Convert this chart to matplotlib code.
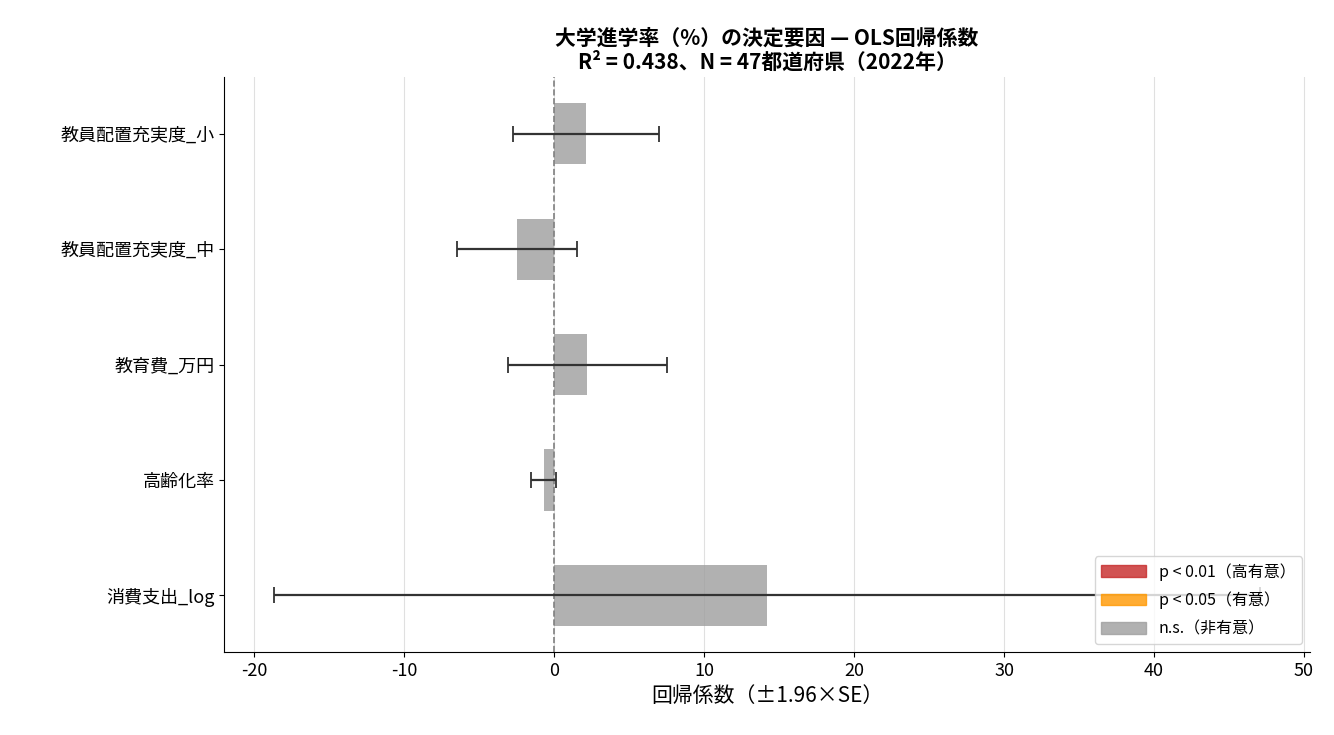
import numpy as np
import matplotlib.pyplot as plt
from matplotlib.patches import Patch

plt.rcParams['font.family'] = ['Noto Sans CJK JP', 'DejaVu Sans']
plt.rcParams['axes.unicode_minus'] = False

# 上から順に表示（barh は下から描くので逆順で扱う）
variables = ['教員配置充実度_小', '教員配置充実度_中', '教育費_万円', '高齢化率', '消費支出_log']
coefs = [2.1, -2.5, 2.2, -0.7, 14.2]
errs = [4.87, 4.0, 5.3, 0.85, 32.87]
pvals = [0.4, 0.3, 0.4, 0.3, 0.4]

def sig_color(p):
    if p < 0.01:
        return '#c62828'
    if p < 0.05:
        return '#ff9800'
    return '#9e9e9e'

fig, ax = plt.subplots(figsize=(13.34, 7.35), dpi=100)
y = np.arange(len(variables))[::-1]
colors = [sig_color(p) for p in pvals]
ax.barh(y, coefs, height=0.53, color=colors, alpha=0.8, zorder=2)
ax.errorbar(coefs, y, xerr=errs, fmt='none', ecolor='#333333', capsize=6,
            elinewidth=1.6, capthick=1.3, zorder=3)
ax.axvline(0, color='gray', linestyle='--', linewidth=1.2, zorder=2)

ax.set_yticks(y)
ax.set_yticklabels(variables, fontsize=13)
ax.set_xlim(-22, 50.4)
ax.set_ylim(-0.49, 4.49)
ax.tick_params(axis='x', labelsize=13)
ax.set_xlabel('回帰係数（±1.96×SE）', fontsize=15)
ax.set_title('大学進学率（%）の決定要因 — OLS回帰係数\nR² = 0.438、N = 47都道府県（2022年）',
             fontsize=15, fontweight='bold', linespacing=1.15)
ax.grid(axis='x', color='#e0e0e0', zorder=0)
ax.spines['top'].set_visible(False)
ax.spines['right'].set_visible(False)

handles = [Patch(facecolor='#c62828', edgecolor='#c62828', alpha=0.8, label='p < 0.01（高有意）'),
           Patch(facecolor='#ff9800', edgecolor='#ff9800', alpha=0.8, label='p < 0.05（有意）'),
           Patch(facecolor='#9e9e9e', edgecolor='#9e9e9e', alpha=0.8, label='n.s.（非有意）')]
leg = ax.legend(handles=handles, loc='lower right', fontsize=11.5, handlelength=2.8,
                labelspacing=0.7)
leg.set_zorder(5)

fig.subplots_adjust(left=0.168, right=0.982, top=0.895, bottom=0.113)
plt.savefig('out.png')
